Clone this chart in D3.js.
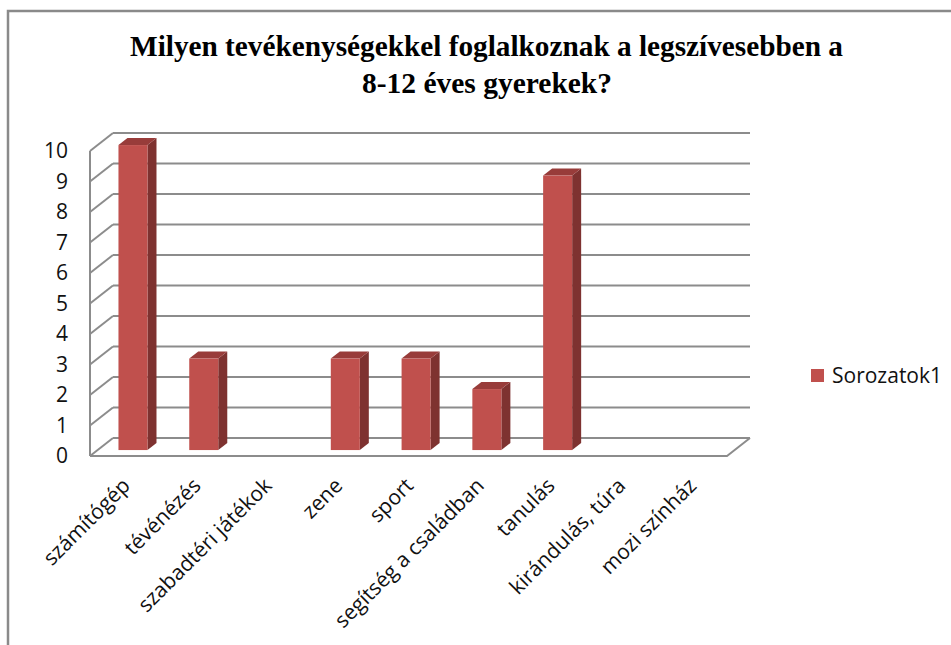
<!DOCTYPE html>
<html>
<head>
<meta charset="utf-8">
<script src="https://cdn.jsdelivr.net/npm/d3@7"></script>
<style>
  body { margin: 0; background: #fff; }
  svg { display: block; }
</style>
</head>
<body>
<svg width="951" height="645"></svg>
<script>
// adatok
const categories = ["számítógép", "tévénézés", "szabadtéri játékok", "zene", "sport",
    "segítség a családban", "tanulás", "kirándulás, túra", "mozi színház"];
const values = [10, 3, 0, 3, 3, 2, 9, 0, 0];
const yTicks = [0, 1, 2, 3, 4, 5, 6, 7, 8, 9, 10];
const seriesName = "Sorozatok1";
const titleLines = ["Milyen tevékenységekkel foglalkoznak a legszívesebben a", "8-12 éves gyerekek?"];

const svg = d3.select("svg");
const labelFont = "'Open Sans', 'Noto Sans', sans-serif";

// keret
svg.append("path")
    .attr("d", "M8,660 L8,11 L960,11")
    .attr("fill", "none")
    .attr("stroke", "#8a8a8a")
    .attr("stroke-width", 2.5);

// cim
const titleBox = [[486.5, 56, 713], [487, 93, 250]];
svg.selectAll(".title")
    .data(titleLines)
    .enter()
    .append("text")
    .attr("class", "title")
    .attr("x", (d, i) => titleBox[i][0])
    .attr("y", (d, i) => titleBox[i][1])
    .attr("text-anchor", "middle")
    .attr("textLength", (d, i) => titleBox[i][2])
    .attr("lengthAdjust", "spacingAndGlyphs")
    .style("font-family", "'Liberation Serif', 'Times New Roman', serif")
    .style("font-weight", "bold")
    .style("font-size", "29px")
    .text(d => d);

// skalak
const x = d3.scaleBand().domain(categories).range([90, 727]);
const y = d3.scaleLinear().domain([0, 10]).range([456, 151]);
const depth = {dx: 23, dy: -18};
const grid = "#8c8c8c";

const g = svg.append("g");

// hatso fal racsvonalai + bal fal
g.selectAll(".grid")
    .data(yTicks)
    .enter()
    .append("line")
    .attr("x1", x.range()[0] + depth.dx)
    .attr("x2", x.range()[1] + depth.dx)
    .attr("y1", d => y(d) + depth.dy)
    .attr("y2", d => y(d) + depth.dy)
    .attr("stroke", grid)
    .attr("stroke-width", 2);

g.selectAll(".wall")
    .data(yTicks)
    .enter()
    .append("line")
    .attr("x1", x.range()[0])
    .attr("x2", x.range()[0] + depth.dx)
    .attr("y1", d => y(d))
    .attr("y2", d => y(d) + depth.dy)
    .attr("stroke", grid)
    .attr("stroke-width", 2);

g.append("line")
    .attr("x1", x.range()[0]).attr("x2", x.range()[0])
    .attr("y1", y(10)).attr("y2", y(0))
    .attr("stroke", grid).attr("stroke-width", 2);

// padlo
g.append("path")
    .attr("d", "M" + x.range()[0] + "," + y(0) + " L" + x.range()[1] + "," + y(0) +
        " L" + (x.range()[1] + depth.dx) + "," + (y(0) + depth.dy))
    .attr("fill", "none")
    .attr("stroke", grid)
    .attr("stroke-width", 2);

// oszlopok (3D)
const bw = x.bandwidth() * 0.41;
const front = {dx: depth.dx * 0.33, dy: depth.dy * 0.33};
const side = {dx: 9, dy: -7};

const bars = g.selectAll(".bar")
    .data(categories.map((c, i) => ({name: c, value: values[i]})).filter(d => d.value > 0))
    .enter()
    .append("g")
    .attr("transform", "translate(" + front.dx + "," + front.dy + ")");

bars.append("path")
    .attr("fill", "#7e3230")
    .attr("d", function (d) {
        const x1 = x(d.name) + x.bandwidth() / 2 + bw / 2;
        const t = y(d.value), b = y(0);
        return "M" + x1 + "," + t + " L" + (x1 + side.dx) + "," + (t + side.dy) +
            " L" + (x1 + side.dx) + "," + (b + side.dy) + " L" + x1 + "," + b + "Z";
    });

bars.append("path")
    .attr("fill", "#983c3a")
    .attr("d", function (d) {
        const x0 = x(d.name) + x.bandwidth() / 2 - bw / 2;
        const x1 = x0 + bw;
        const t = y(d.value);
        return "M" + x0 + "," + t + " L" + (x0 + side.dx) + "," + (t + side.dy) +
            " L" + (x1 + side.dx) + "," + (t + side.dy) + " L" + x1 + "," + t + "Z";
    });

bars.append("rect")
    .attr("fill", "#c0504d")
    .attr("x", d => x(d.name) + x.bandwidth() / 2 - bw / 2)
    .attr("width", bw)
    .attr("y", d => y(d.value))
    .attr("height", d => y(0) - y(d.value));

// y tengely feliratai
svg.selectAll(".ytick")
    .data(yTicks)
    .enter()
    .append("text")
    .attr("x", 68)
    .attr("y", d => y(d))
    .attr("dy", "0.35em")
    .attr("text-anchor", "end")
    .style("font-family", labelFont)
    .style("font-size", "21px")
    .style("fill", "#111")
    .text(d => d);

// x tengely feliratai
svg.selectAll(".xtick")
    .data(categories)
    .enter()
    .append("text")
    .attr("transform", d => "translate(" + (x(d) + x.bandwidth() / 2 + 6) + ",487) rotate(-45)")
    .attr("text-anchor", "end")
    .style("font-family", labelFont)
    .style("font-size", "21px")
    .style("fill", "#111")
    .text(d => d);

// jelmagyarazat
svg.append("rect")
    .attr("x", 811).attr("y", 369)
    .attr("width", 13).attr("height", 13)
    .attr("fill", "#c0504d");
svg.append("text")
    .attr("x", 832).attr("y", 376)
    .attr("dy", "0.35em")
    .style("font-family", labelFont)
    .style("font-size", "21px")
    .style("fill", "#111")
    .text(seriesName);
</script>
</body>
</html>
